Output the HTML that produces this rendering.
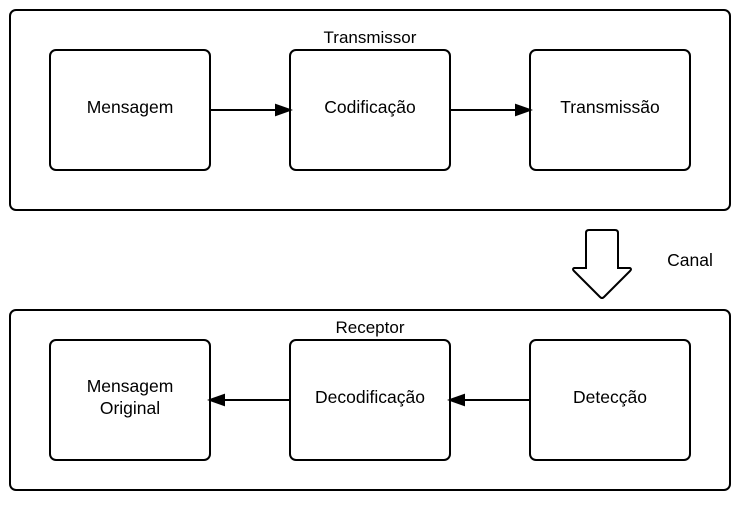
<!DOCTYPE html>
<html><head><style>body{margin:0;background:#fff}</style></head><body>
<svg width="740" height="501" viewBox="0 0 740 501" xmlns="http://www.w3.org/2000/svg" font-family="'Liberation Sans', sans-serif" font-size="17.5" fill="none" stroke="#000" stroke-width="2">
<rect x="10" y="10" width="720" height="200" rx="6"/>
<rect x="10" y="310" width="720" height="180" rx="6"/>
<rect x="50" y="50" width="160" height="120" rx="6"/>
<rect x="290" y="50" width="160" height="120" rx="6"/>
<rect x="530" y="50" width="160" height="120" rx="6"/>
<rect x="50" y="340" width="160" height="120" rx="6"/>
<rect x="290" y="340" width="160" height="120" rx="6"/>
<rect x="530" y="340" width="160" height="120" rx="6"/>
<line x1="210" y1="110" x2="276" y2="110"/><polygon points="290,110 276,105 276,115" fill="#000"/>
<line x1="450" y1="110" x2="516" y2="110"/><polygon points="530,110 516,105 516,115" fill="#000"/>
<line x1="290" y1="400" x2="224" y2="400"/><polygon points="210,400 224,395 224,405" fill="#000"/>
<line x1="530" y1="400" x2="464" y2="400"/><polygon points="450,400 464,395 464,405" fill="#000"/>
<path d="M589,230 H615 Q618,230 618,233 V268 H630 Q632,269 630,271 L604,297 Q602,299 600,297 L574,271 Q572,269 574,268 H586 V233 Q586,230 589,230 Z" fill="#fff"/>
<g fill="#000" stroke="none" text-anchor="middle">
<text x="370" y="43" font-size="17">Transmissor</text>
<text x="370" y="333" font-size="17">Receptor</text>
<text x="130" y="113">Mensagem</text>
<text x="370" y="113">Codificação</text>
<text x="610" y="113">Transmissão</text>
<text x="130" y="392">Mensagem</text>
<text x="130" y="414">Original</text>
<text x="370" y="403">Decodificação</text>
<text x="610" y="403">Detecção</text>
<text x="690" y="266" font-size="17.5">Canal</text>
</g>
</svg>
</body></html>
